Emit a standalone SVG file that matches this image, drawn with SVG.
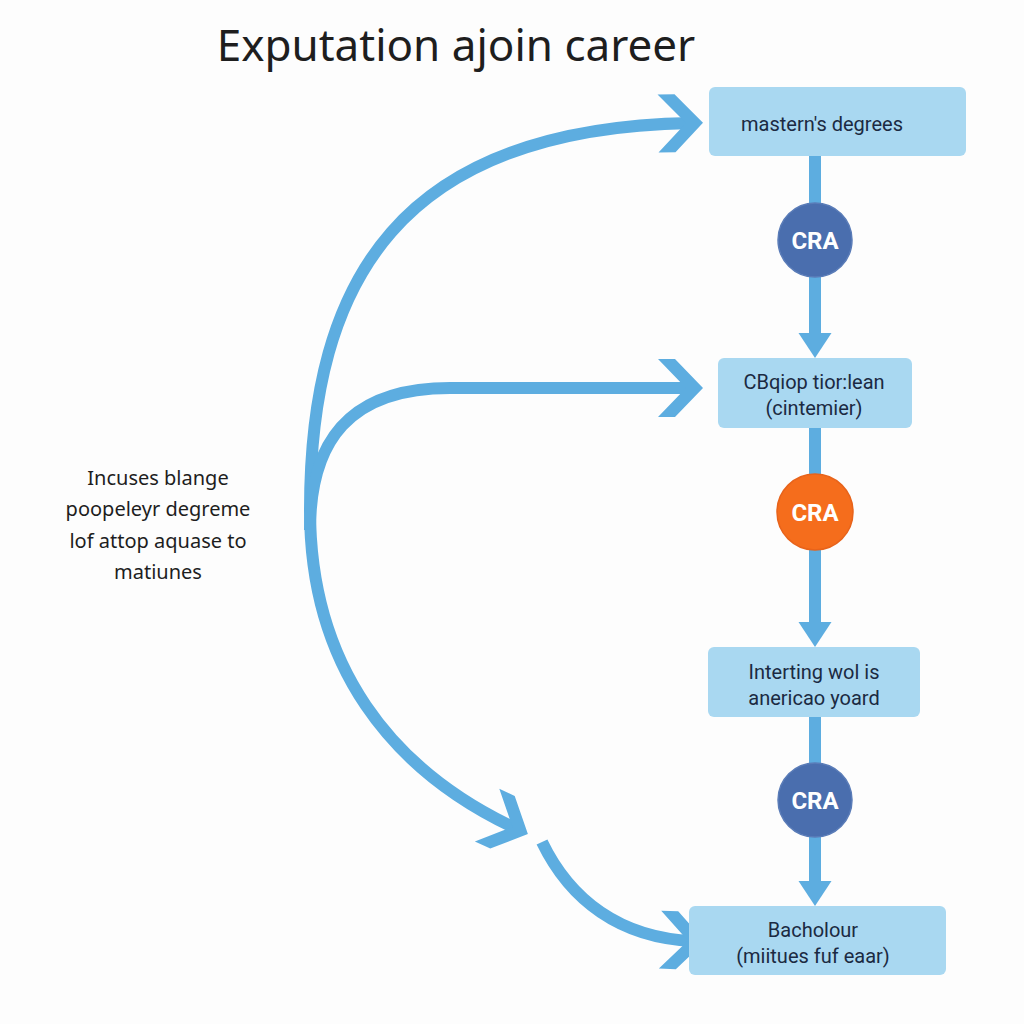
<svg xmlns="http://www.w3.org/2000/svg" width="1024" height="1024" viewBox="0 0 1024 1024">
<defs>
<style>
.bg{fill:#fdfdfd}
.box{fill:#a9d8f1}
.btxt{font-family:Roboto,"Noto Sans",sans-serif;font-size:20px;fill:#1b2a42;text-anchor:middle}
.title{font-family:"Noto Sans","Open Sans",sans-serif;font-size:44px;fill:#1e1e1e;text-anchor:middle}
.side{font-family:"Noto Sans","Open Sans",sans-serif;font-size:20px;fill:#1e1e1e;text-anchor:middle}
.cra{font-family:Roboto,"Liberation Sans",sans-serif;font-size:24px;font-weight:bold;fill:#ffffff;text-anchor:middle}
.conn{fill:none;stroke:#5dade0;stroke-width:12}
.vconn{fill:none;stroke:#5dade0;stroke-width:12}
.blue{fill:#4a6eae;stroke:#5a7cb8;stroke-width:1.5}
.orange{fill:#f56d1c;stroke:#e8631a;stroke-width:1.5}
</style>
<marker id="chev" markerUnits="userSpaceOnUse" viewBox="-50 -35 55 70" refX="-12" refY="0" markerWidth="55" markerHeight="70" orient="auto-start-reverse">
<polygon points="0,0 -28,-29 -45,-29 -17,0 -45,29 -28,29" fill="#5dade0"/>
</marker>
<marker id="tri" markerUnits="userSpaceOnUse" viewBox="-30 -20 32 40" refX="-20" refY="0" markerWidth="32" markerHeight="40" orient="auto">
<polygon points="0,0 -25,-16.5 -25,16.5" fill="#5dade0"/>
</marker>
</defs>
<rect class="bg" x="0" y="0" width="1024" height="1024"/>
<text class="title" x="456" y="61">Exputation ajoin career</text>
<g id="connectors">
<path class="vconn" d="M815,156 V338" marker-end="url(#tri)"/>
<path class="vconn" d="M815,428 V627" marker-end="url(#tri)"/>
<path class="vconn" d="M815,717 V886" marker-end="url(#tri)"/>
<path class="conn" d="M691,123 C400,128 310,280 310,510 C310,665 390,770 517,829" marker-start="url(#chev)" marker-end="url(#chev)"/>
<path class="conn" d="M310,530 C310,440 350,388 450,388 L691,388" marker-end="url(#chev)"/>
<path class="conn" d="M542,842 C570,900 620,938 693,941" marker-end="url(#chev)"/>
</g>
<g id="node-masters">
<rect class="box" x="709" y="87" width="257" height="69" rx="6"/>
<text class="btxt" x="822" y="131">mastern's degrees</text>
</g>
<g id="node-cra1">
<circle class="blue" cx="815" cy="240" r="37"/>
<text class="cra" x="815" y="249">CRA</text>
</g>
<g id="node-cbqiop">
<rect class="box" x="718" y="358" width="194" height="70" rx="6"/>
<text class="btxt" x="814" y="389">CBqiop tior:lean</text>
<text class="btxt" x="814" y="415">(cintemier)</text>
</g>
<g id="node-cra2">
<circle class="orange" cx="815" cy="512" r="38"/>
<text class="cra" x="815" y="521">CRA</text>
</g>
<g id="node-interting">
<rect class="box" x="708" y="647" width="212" height="70" rx="6"/>
<text class="btxt" x="814" y="679">Interting wol is</text>
<text class="btxt" x="814" y="705">anericao yoard</text>
</g>
<g id="node-cra3">
<circle class="blue" cx="815" cy="800" r="37"/>
<text class="cra" x="815" y="809">CRA</text>
</g>
<g id="node-bacholour">
<rect class="box" x="689" y="906" width="257" height="69" rx="6"/>
<text class="btxt" x="813" y="937">Bacholour</text>
<text class="btxt" x="813" y="963">(miitues fuf eaar)</text>
</g>
<g id="note">
<text class="side" x="158" y="485">Incuses blange</text>
<text class="side" x="158" y="516">poopeleyr degreme</text>
<text class="side" x="158" y="548">lof attop aquase to</text>
<text class="side" x="158" y="579">matiunes</text>
</g>
</svg>
